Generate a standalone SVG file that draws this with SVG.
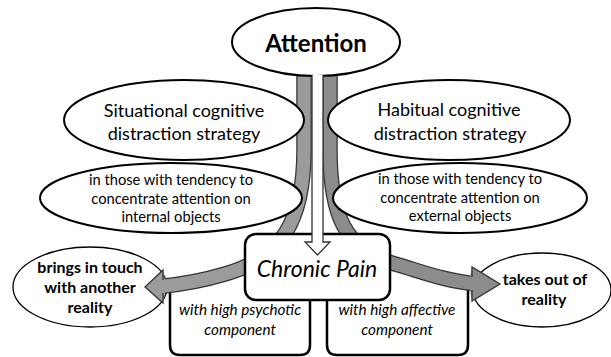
<svg xmlns="http://www.w3.org/2000/svg" width="611" height="357" viewBox="0 0 611 357">
<style>
.ell{fill:#fff;stroke:#000;stroke-width:2}
.ell2{fill:#fff;stroke:#000;stroke-width:1.3}
.box{fill:#fff;stroke:#000;stroke-width:2.5}
.open{fill:none;stroke:#000;stroke-width:2.5;stroke-linejoin:round}
.bandO{fill:none;stroke:#333;stroke-width:15.5}
.bandL{fill:none;stroke:#9b9b9b;stroke-width:13}
.bandR{fill:none;stroke:#8c8c8c;stroke-width:13}
.t{font-family:Lato,"Liberation Sans",sans-serif;fill:#000;text-anchor:middle}
.big{font-size:18px}
.sm{font-size:14.7px}
.bb{font-size:16px;font-weight:bold}
.it{font-size:15.3px;font-style:italic}
</style>
<rect width="611" height="357" fill="#fff"/>

<g id="psychotic">
<path class="open" d="M170,288 V345 Q170,355 180,355 H300 Q310,355 310,345 V295"/>
<text class="t it" x="240" y="315">with high psychotic</text>
<text class="t it" x="240" y="335">component</text>
</g>
<g id="affective">
<path class="open" d="M327,295 V345 Q327,355 337,355 H458 Q468,355 468,345 V290"/>
<text class="t it" x="397" y="315">with high affective</text>
<text class="t it" x="397" y="335">component</text>
</g>
<g id="another-reality">
<ellipse class="ell2" cx="90" cy="287" rx="77" ry="40"/>
<text class="t bb" x="90" y="273">brings in touch</text>
<text class="t bb" x="90" y="293">with another</text>
<text class="t bb" x="90" y="313">reality</text>
</g>
<g id="out-of-reality">
<ellipse class="ell2" cx="542" cy="290" rx="69" ry="37"/>
<text class="t bb" x="545" y="285">takes out of</text>
<text class="t bb" x="544" y="305">reality</text>
</g>

<g id="connectors">
<path class="bandO" d="M304,70 V150 C304,220 282,258 225,274 C205,280 185,284 160,286.5"/>
<path class="bandL" d="M304,70 V150 C304,220 282,258 225,274 C205,280 185,284 160,286.5"/>
<polygon points="165,280 163,270 145,287 163,303 165,293" fill="#9b9b9b"/>
<polyline points="163,280 163,270 145,287 163,303 163,293" fill="none" stroke="#333" stroke-width="1.3" stroke-linejoin="miter"/>
<path class="bandO" d="M330,70 V150 C330,215 345,250 395,264 C420,271 445,281 474,283.5"/>
<path class="bandR" d="M330,70 V150 C330,215 345,250 395,264 C420,271 445,281 474,283.5"/>
<polygon points="470,277 472,267 500,284 472,301 470,290" fill="#8c8c8c"/>
<polyline points="472,277 472,267 500,284 472,301 472,290" fill="none" stroke="#333" stroke-width="1.3" stroke-linejoin="miter"/>
</g>

<g id="situational">
<ellipse class="ell" cx="184" cy="120" rx="120" ry="40"/>
<text class="t big" x="184" y="117">Situational cognitive</text>
<text class="t big" x="184" y="140">distraction strategy</text>
</g>
<g id="internal">
<ellipse class="ell" cx="171" cy="198" rx="131" ry="35"/>
<text class="t sm" x="171" y="185">in those with tendency to</text>
<text class="t sm" x="171" y="204">concentrate attention on</text>
<text class="t sm" x="171" y="222">internal objects</text>
</g>
<g id="habitual">
<ellipse class="ell" cx="449" cy="120" rx="121" ry="40"/>
<text class="t big" x="449" y="116">Habitual cognitive</text>
<text class="t big" x="450" y="140">distraction strategy</text>
</g>
<g id="external">
<ellipse class="ell" cx="460" cy="198" rx="127" ry="35"/>
<text class="t sm" x="460" y="184">in those with tendency to</text>
<text class="t sm" x="460" y="203">concentrate attention on</text>
<text class="t sm" x="460" y="221">external objects</text>
</g>
<g id="attention">
<ellipse class="ell" cx="316" cy="42" rx="84" ry="34"/>
<text class="t" style="font-size:24px;font-weight:bold" x="316" y="52">Attention</text>
</g>
<g id="chronic-pain">
<rect class="box" x="245" y="234" width="145" height="66" rx="11"/>
<text class="t" style="font-size:23px;font-style:italic" x="317" y="277">Chronic Pain</text>
</g>
<g id="attention-arrow">
<path d="M312,75 V242 H305 L317.5,255 L330,242 H323 V75" fill="#fff" stroke="#333" stroke-width="1.3"/>
</g>
</svg>
